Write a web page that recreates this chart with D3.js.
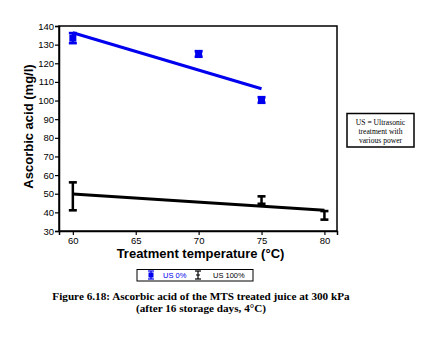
<!DOCTYPE html>
<html>
<head>
<meta charset="utf-8">
<script src="https://cdn.jsdelivr.net/npm/d3@7"></script>
<style>
  body { margin: 0; background: #fff; }
  svg { display: block; }
</style>
</head>
<body>
<div id="chart"></div>
<script>
// Ascorbic acid vs treatment temperature, two ultrasonic series

const us0Temp = [60, 70, 75];
const us0Mean = [133.5, 125, 100.3];
const us0Err = [2.7, 1.5, 1.5];
const us0Fit = [[60, 136.4], [75, 106.3]];

const us100Temp = [60, 75, 80];
const us100Mean = [48.6, 46.6, 38.4];
const us100Err = [7.5, 2.0, 2.3];
const us100Fit = [[60, 49.9], [80, 41.1]];

const xTicks = [60, 65, 70, 75, 80];
const yTicks = [30, 40, 50, 60, 70, 80, 90, 100, 110, 120, 130, 140];

const W = 433, H = 337;
const plot = {left: 59, right: 337, top: 26, bottom: 231};

const svg = d3.select("#chart")
    .append("svg")
        .attr("width", W)
        .attr("height", H);

const x = d3.scaleLinear()
    .domain([58.9, 81])
    .range([plot.left, plot.right]);

const y = d3.scaleLinear()
    .domain([30, 140])
    .range([plot.bottom, plot.top]);

// Frame
svg.append("rect")
    .attr("x", plot.left)
    .attr("y", plot.top)
    .attr("width", plot.right - plot.left)
    .attr("height", plot.bottom - plot.top)
    .attr("fill", "none")
    .attr("stroke", "#000")
    .attr("stroke-width", 1.5);

// Axes
const yAxis = svg.append("g")
    .attr("transform", `translate(${plot.left},0)`)
    .call(d3.axisLeft(y).tickValues(yTicks).tickSize(4).tickPadding(1));
const xAxis = svg.append("g")
    .attr("transform", `translate(0,${plot.bottom})`)
    .call(d3.axisBottom(x).tickValues(xTicks).tickSize(4).tickPadding(2));
[xAxis, yAxis].forEach(a => {
    a.select(".domain").attr("stroke-width", 1.5);
    a.selectAll(".tick line").attr("stroke-width", 1.2);
    a.selectAll("text")
        .style("font-family", "Arial, 'Liberation Sans', sans-serif")
        .style("font-size", "9.5px")
        .attr("fill", "#000");
});

// Fit lines
const line = d3.line().x(d => x(d[0])).y(d => y(d[1]));
svg.append("path")
    .attr("d", line(us0Fit))
    .attr("stroke", "#0000ee")
    .attr("stroke-width", 3)
    .attr("fill", "none");
svg.append("path")
    .attr("d", line(us100Fit))
    .attr("stroke", "#000")
    .attr("stroke-width", 3)
    .attr("fill", "none");

// Error bars
function errorBars(temps, means, errs, color, filled) {
    const g = svg.append("g");
    temps.forEach((t, i) => {
        const cx = x(t), top = y(means[i] + errs[i]), bot = y(means[i] - errs[i]);
        g.append("line")
            .attr("x1", cx).attr("x2", cx)
            .attr("y1", top).attr("y2", bot)
            .attr("stroke", color).attr("stroke-width", 2.5);
        [top, bot].forEach(yy => {
            g.append("line")
                .attr("x1", cx - 4).attr("x2", cx + 4)
                .attr("y1", yy).attr("y2", yy)
                .attr("stroke", color).attr("stroke-width", 2.6);
        });
        if (filled) {
            g.append("rect")
                .attr("x", cx - 3.5).attr("y", y(means[i]) - 3.5)
                .attr("width", 7).attr("height", 7)
                .attr("fill", color);
        }
    });
}
errorBars(us0Temp, us0Mean, us0Err, "#0000ee", true);
errorBars(us100Temp, us100Mean, us100Err, "#000", false);

// Axis titles
svg.append("text")
    .attr("transform", `translate(33,${(plot.top + plot.bottom) / 2 - 2}) rotate(-90)`)
    .attr("text-anchor", "middle")
    .style("font-family", "Arial, 'Liberation Sans', sans-serif")
    .style("font-weight", "bold")
    .style("font-size", "13px")
    .text("Ascorbic acid (mg/l)");

svg.append("text")
    .attr("x", 200.5)
    .attr("y", 258)
    .attr("text-anchor", "middle")
    .style("font-family", "Arial, 'Liberation Sans', sans-serif")
    .style("font-weight", "bold")
    .style("font-size", "13px")
    .text("Treatment temperature (°C)");

// Note box
svg.append("rect")
    .attr("x", 347).attr("y", 113.5)
    .attr("width", 67).attr("height", 33.5)
    .attr("fill", "#fff")
    .attr("stroke", "#000")
    .attr("stroke-width", 1.5);
const noteLines = ["US = Ultrasonic", "treatment with", "various power"];
svg.append("g").selectAll("text")
    .data(noteLines)
    .join("text")
        .attr("x", 380.5)
        .attr("y", (d, i) => 124.5 + i * 9)
        .attr("text-anchor", "middle")
        .style("font-family", "'Liberation Serif', 'Times New Roman', serif")
        .style("font-size", "7.6px")
        .text(d => d);

// Legend
const lg = svg.append("g");
lg.append("rect")
    .attr("x", 137).attr("y", 269.5)
    .attr("width", 116).attr("height", 11.5)
    .attr("fill", "#fff")
    .attr("stroke", "#000")
    .attr("stroke-width", 1);
function legendSymbol(cx, color, filled) {
    const cy = 275;
    lg.append("line").attr("x1", cx).attr("x2", cx).attr("y1", cy - 4).attr("y2", cy + 4)
        .attr("stroke", color).attr("stroke-width", 1.2);
    [cy - 4, cy + 4].forEach(yy => lg.append("line")
        .attr("x1", cx - 3).attr("x2", cx + 3).attr("y1", yy).attr("y2", yy)
        .attr("stroke", color).attr("stroke-width", 1.2));
    if (filled) {
        lg.append("rect").attr("x", cx - 2.5).attr("y", cy - 2.5)
            .attr("width", 5).attr("height", 5).attr("fill", color);
    } else {
        lg.append("line").attr("x1", cx - 2).attr("x2", cx + 2).attr("y1", cy).attr("y2", cy)
            .attr("stroke", color).attr("stroke-width", 1);
    }
}
legendSymbol(151, "#0000ee", true);
legendSymbol(198, "#000", false);
lg.append("text").attr("x", 163).attr("y", 278)
    .style("font-family", "Arial, 'Liberation Sans', sans-serif")
    .style("font-size", "7.5px").attr("fill", "#0000ee").text("US 0%");
lg.append("text").attr("x", 213).attr("y", 278)
    .style("font-family", "Arial, 'Liberation Sans', sans-serif")
    .style("font-size", "7.5px").attr("fill", "#000").text("US 100%");

// Caption
const caption = ["Figure 6.18: Ascorbic acid of the MTS treated juice at 300 kPa",
                 "(after 16 storage days, 4°C)"];
svg.append("g").selectAll("text")
    .data(caption)
    .join("text")
        .attr("x", 201)
        .attr("y", (d, i) => 299.5 + i * 12)
        .attr("text-anchor", "middle")
        .style("font-family", "'Liberation Serif', 'Times New Roman', serif")
        .style("font-weight", "bold")
        .style("font-size", "11.2px")
        .text(d => d);
</script>
</body>
</html>
